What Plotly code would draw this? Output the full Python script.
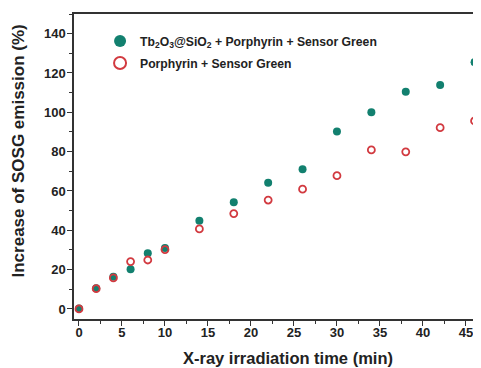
import plotly.graph_objects as go

time_min = [0, 2, 4, 6, 8, 10, 14, 18, 22, 26, 30, 34, 38, 42, 46]
tb_sio2 = [0.3, 10.6, 16.4, 20.2, 28.3, 31.0, 44.8, 54.3, 64.2, 71.1, 90.2, 100.0, 110.4, 113.9, 125.5]
porphyrin = [0.0, 10.3, 15.8, 24.1, 24.9, 30.2, 40.7, 48.5, 55.4, 60.9, 67.8, 80.9, 79.9, 92.2, 95.6]

name_tb = "Tb<sub>2</sub>O<sub>3</sub>@SiO<sub>2</sub> + Porphyrin + Sensor Green"
name_p = "Porphyrin + Sensor Green"
x_title = "X-ray irradiation time (min)"
y_title = "Increase of SOSG emission (%)"

teal = "#12806f"
red = "#d23a40"

fig = go.Figure()
fig.add_trace(go.Scatter(x=time_min, y=tb_sio2, mode="markers", name=name_tb, legendgroup="a",
                         marker=dict(symbol="circle", size=8, color=teal, line=dict(width=0)),
                         cliponaxis=False))
fig.add_trace(go.Scatter(x=time_min, y=porphyrin, mode="markers", name=name_p, legendgroup="b",
                         marker=dict(symbol="circle-open", size=7, color=red, line=dict(width=1.8, color=red)),
                         cliponaxis=False))

axis_font = dict(family="Liberation Sans, Arial", size=13, color="#222", weight="bold")

# the page body has an 8px default margin, so the figure is sized to fill the rest of the window
fig.update_layout(
    width=473, height=360,
    margin=dict(l=66, r=0, t=6, b=49, autoexpand=False),
    paper_bgcolor="white", plot_bgcolor="white",
    showlegend=True,
    legend=dict(x=0.064, y=0.959, xanchor="left", yanchor="top",
                bgcolor="rgba(0,0,0,0)", borderwidth=0,
                font=dict(family="Liberation Sans, Arial", size=12.2, color="#222", weight="bold"),
                itemsizing="constant", tracegroupgap=3),
    xaxis=dict(range=[-0.58, 46.75], tickmode="linear", tick0=0, dtick=5, automargin=False,
               showgrid=False, zeroline=False, showline=True, linecolor="#333", linewidth=1.5,
               mirror=True, ticks="outside", ticklen=5, tickwidth=1.2, tickcolor="#333",
               minor=dict(ticks="outside", ticklen=3, dtick=2.5, tick0=0, tickcolor="#333", showgrid=False),
               tickfont=axis_font, ticklabelstandoff=-4),
    yaxis=dict(range=[-5.1, 150], tickmode="linear", tick0=0, dtick=20, automargin=False,
               showgrid=False, zeroline=False, showline=True, linecolor="#333", linewidth=1.5,
               mirror=False, ticks="outside", ticklen=5, tickwidth=1.2, tickcolor="#333",
               minor=dict(ticks="outside", ticklen=3, dtick=10, tick0=0, tickcolor="#333", showgrid=False),
               tickfont=axis_font, ticklabelstandoff=-1),
    annotations=[
        dict(text=x_title, xref="paper", yref="paper", x=0.526, y=-0.128,
             xanchor="center", yanchor="middle", showarrow=False,
             font=dict(family="Liberation Sans, Arial", size=16.5, color="#222", weight="bold")),
        dict(text=y_title, xref="paper", yref="paper", x=-0.1376, y=0.5525, textangle=-90,
             xanchor="center", yanchor="middle", showarrow=False,
             font=dict(family="Liberation Sans, Arial", size=17, color="#222", weight="bold")),
    ],
)

fig.write_html("out.html")
